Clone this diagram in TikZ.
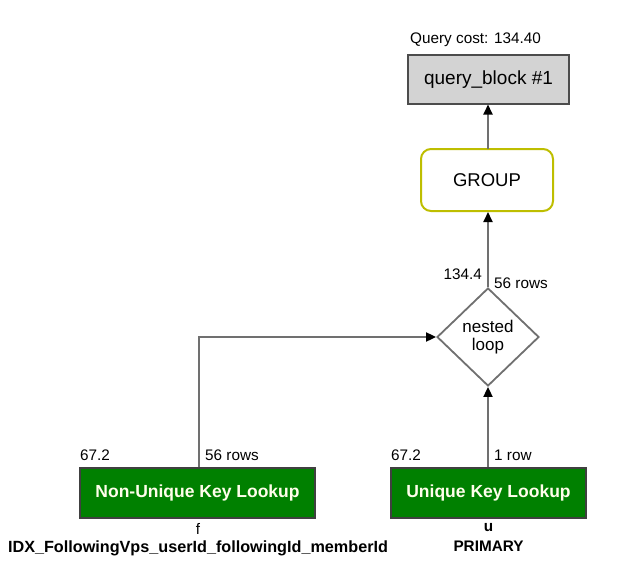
\documentclass[tikz,border=0pt]{standalone}
\usepackage{fontspec}
\setmainfont{Liberation Sans}
\usetikzlibrary{shapes.geometric,arrows.meta}
\definecolor{boxgreen}{RGB}{0,128,0}
\definecolor{linegray}{RGB}{112,112,112}
\definecolor{olive}{RGB}{190,190,0}
\definecolor{lgray}{RGB}{211,211,211}
\tikzset{
  conn/.style={draw=linegray, line width=1.8pt, -{Triangle[length=10pt,width=9pt,fill=black,color=black]}},
  lbl/.style={font=\fontsize{15.3}{17}\selectfont, inner sep=0pt},
  opbox/.style={draw=black!75, line width=1.4pt, fill=boxgreen, text=white!92!yellow, font=\fontsize{17.5}{20}\selectfont\bfseries, minimum height=50pt, inner sep=0pt},
}
\begin{document}
\begin{tikzpicture}[x=1pt,y=-1pt]
\useasboundingbox (0,0) rectangle (622,579);
\node[draw=black!70, line width=1.4pt, fill=lgray, minimum width=161pt, minimum height=49pt, font=\fontsize{19}{21}\selectfont, inner sep=0pt] (qb) at (488.5,79.5) {query\_block \#1};
\node[lbl, anchor=south west] (qc) at (410,47) {Query cost: 134.40};
\node[draw=olive, line width=2pt, rounded corners=10pt, fill=white, minimum width=132pt, minimum height=62pt, font=\fontsize{18.5}{20}\selectfont, inner sep=0pt] (grp) at (487,180) {GROUP};
\node[draw=linegray, line width=1.8pt, diamond, minimum width=102pt, minimum height=98pt, inner sep=0pt, align=center, font=\fontsize{17}{18}\selectfont] (nl) at (488,337) {nested\\loop};
\node[opbox, minimum width=235pt] (nu) at (197.5,493) {Non-Unique Key Lookup};
\node[opbox, minimum width=195pt] (uk) at (488.5,493) {Unique Key Lookup};
\coordinate (bend) at (199,337);
\coordinate (g1) at (488,149);
\coordinate (q1) at (488,104.5);
\draw[conn] (g1) -- (q1);
\draw[conn] (nl.north) -- (nl.north |- grp.south);
\draw[conn] (uk.north -| nl.south) -- (nl.south);
\draw[conn] (nu.north -| bend) -- (bend) -- (nl.west);
\node[lbl, anchor=south east] (c1) at (482,280) {134.4};
\node[lbl, anchor=south west] (r1) at (494,289) {56 rows};
\node[lbl, anchor=south west] (c2) at (80,461) {67.2};
\node[lbl, anchor=south west] (r2) at (205,461) {56 rows};
\node[lbl, anchor=south west] (c3) at (391,461) {67.2};
\node[lbl, anchor=south west] (r3) at (494,461) {1 row};
\node[lbl] (t1) at (198,529) {f};
\node[lbl, font=\fontsize{16.2}{18}\selectfont\bfseries] (i1) at (198,548) {IDX\_FollowingVps\_userId\_followingId\_memberId};
\node[lbl] (t2) at (488.5,528) {\bfseries u};
\node[lbl] (i2) at (488.5,546) {\bfseries PRIMARY};
\end{tikzpicture}
\end{document}
